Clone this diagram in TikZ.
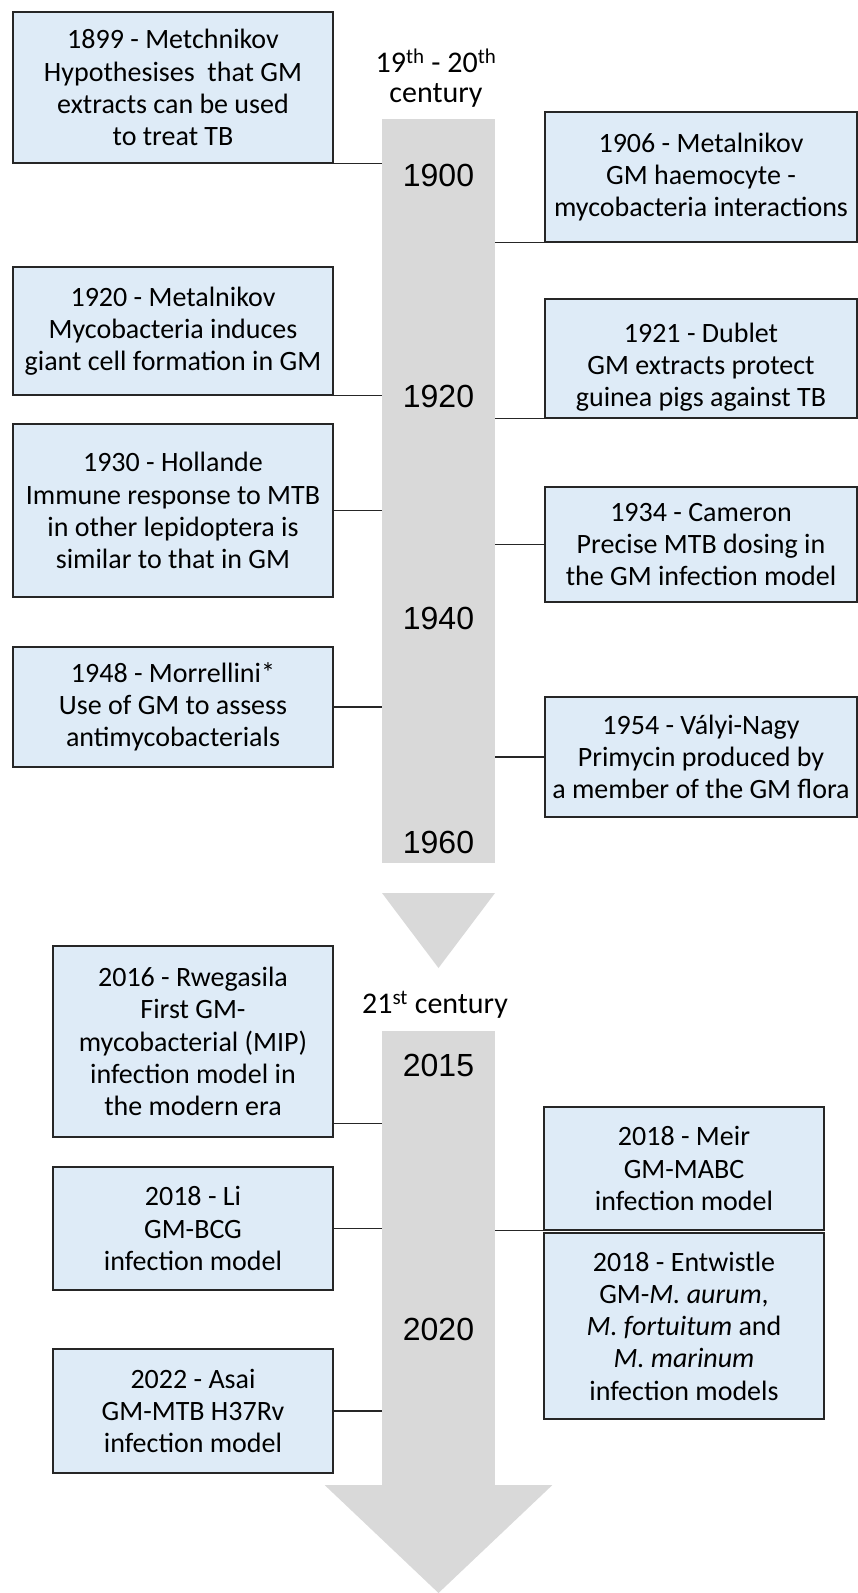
\documentclass[tikz,border=0pt]{standalone}
\usepackage{fontspec}
\setmainfont{Carlito}
\newfontfamily\yearfont{Liberation Sans}
\definecolor{gmblue}{HTML}{DEEBF7}
\definecolor{bargray}{HTML}{D9D9D9}

\begin{document}
\begin{tikzpicture}[x=1pt,y=-1pt,font=\fontsize{28}{32.2}\selectfont,
  event/.style={draw=black!85,line width=1.3pt,fill=gmblue,align=center,inner sep=0pt},
  bar/.style={fill=bargray,inner sep=0pt,minimum width=113},
  yearlbl/.style={font=\yearfont\fontsize{32}{36}\selectfont},
  link/.style={draw=black!85,line width=1.5pt}]
\useasboundingbox (0,0) rectangle (858,1593);
\node[bar,minimum height=744] (bar1) at (438.5,491) {};
\node[bar,minimum height=454] (bar2) at (438.5,1258) {};
\fill[bargray] (382,893) -- (495,893) -- (438.5,968) -- cycle;
\fill[bargray] (bar2.south west) -- ++(-57,0) -- (438.5,1593) -- ([xshift=57pt]bar2.south east) -- cycle;
\node[align=center,font=\fontsize{30}{30}\selectfont] (head1) at (436,78) {19\textsuperscript{th} - 20\textsuperscript{th}\\century};
\node[font=\fontsize{30}{30}\selectfont] (head2) at (435,1005) {21\textsuperscript{st} century};
\foreach \yr/\y in {1900/175,1920/396,1940/618,1960/842,2015/1065,2020/1329}{
 \node[yearlbl] (y\yr) at (438.5,\y) {\yr};
}
\foreach \n/\x/\y/\w/\h/\t in {
 metchnikov/173/87.5/320/151/{1899 - Metchnikov\\Hypothesises~ that GM\\extracts can be used\\to treat TB},
 metalnikovB/173/331/320/128/{1920 - Metalnikov\\Mycobacteria induces\\giant cell formation in GM},
 hollande/173/510.5/320/173/{1930 - Hollande\\Immune response to MTB\\in other lepidoptera is\\similar to that in GM},
 morrellini/173/707/320/120/{1948 - Morrellini*\\Use of GM to assess\\antimycobacterials},
 metalnikovA/701/177/312/130/{1906 - Metalnikov\\GM haemocyte -\\mycobacteria interactions},
 dublet/701/358.5/312/119/{\rule{0pt}{37pt}1921 - Dublet\\GM extracts protect\\guinea pigs against TB},
 cameron/701/544.5/312/115/{1934 - Cameron\\Precise MTB dosing in\\the GM infection model},
 valyi/701/757/312/120/{1954 - Vályi-Nagy\\Primycin produced by\\a member of the GM flora},
 rwegasila/193/1041.5/280/191/{2016 - Rwegasila\\First GM-\\mycobacterial (MIP)\\infection model in\\the modern era},
 li/193/1228.5/280/123/{2018 - Li\\GM-BCG\\infection model},
 asai/193/1411/280/124/{2022 - Asai\\GM-MTB H37Rv\\infection model},
 meir/684/1168.5/280/123/{2018 - Meir\\GM-MABC\\infection model},
 entwistle/684/1326/280/186/{2018 - Entwistle\\GM-\textit{M. aurum},\\\textit{M. fortuitum} and\\\textit{M. marinum}\\infection models}}{
 \node[event,minimum width=\w,minimum height=\h] (\n) at (\x,\y) {\t};
}
\draw[link] (metchnikov.south east) -- (metchnikov.south east -| bar1.west);
\draw[link] (metalnikovB.south east) -- (metalnikovB.south east -| bar1.west);
\draw[link] (hollande.east) -- (hollande.east -| bar1.west);
\draw[link] (morrellini.east) -- (morrellini.east -| bar1.west);
\draw[link] (metalnikovA.south west) -- (metalnikovA.south west -| bar1.east);
\draw[link] (dublet.south west) -- (dublet.south west -| bar1.east);
\draw[link] (cameron.west) -- (cameron.west -| bar1.east);
\draw[link] (valyi.west) -- (valyi.west -| bar1.east);
\draw[link] ([yshift=14pt]rwegasila.south east) -- ([yshift=14pt]rwegasila.south east -| bar2.west);
\draw[link] (li.east) -- (li.east -| bar2.west);
\draw[link] (asai.east) -- (asai.east -| bar2.west);
\draw[link] (meir.south west) -- (meir.south west -| bar2.east);
\end{tikzpicture}
\end{document}
